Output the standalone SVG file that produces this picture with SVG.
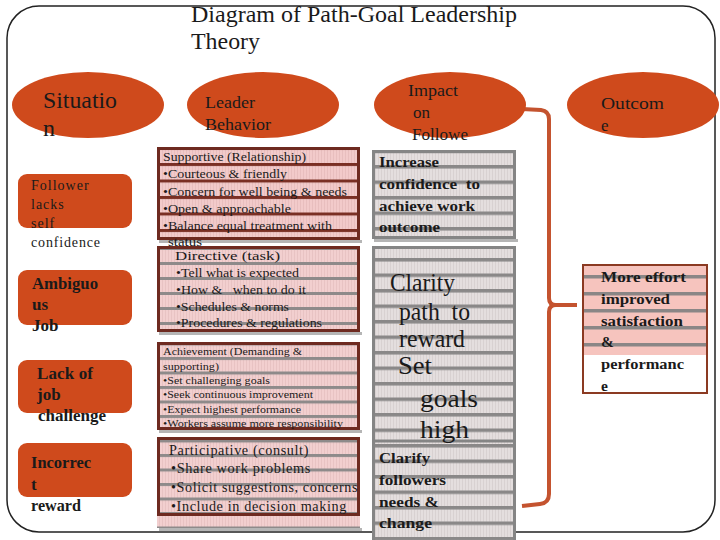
<svg xmlns="http://www.w3.org/2000/svg" width="720" height="540" viewBox="0 0 720 540">
<style>
  text { font-family: "Liberation Serif", "Times New Roman", serif; fill: #1a1a1a; }
  .ell { fill: #CF4A1C; }
  .obox { fill: #CF4A1C; }
  .hd { font-size: 24px; }
  .eh { font-size: 17px; }
  .lt { font-size: 14px; letter-spacing: 1px; }
  .lb { font-size: 17px; font-weight: bold; }
  .mb { fill: none; stroke: #6E2A20; stroke-width: 3; }
  .ib { fill: none; stroke: #858585; stroke-width: 3; }
  .m13 { font-size: 13px; }
  .m11 { font-size: 11px; }
  .m14 { font-size: 14px; letter-spacing: 0.6px; }
  .ibt { font-size: 15.5px; font-weight: bold; }
  .big { font-size: 26px; }
  .shadow { fill: #B5B5B5; }
</style>
<defs>
  <pattern id="pA" width="3" height="16.5" patternUnits="userSpaceOnUse" y="163">
    <rect width="3" height="16.5" fill="#F2CACA"/>
    <rect width="1" height="16.5" fill="#E8BEBE"/>
    <rect y="0" width="3" height="3" fill="#7A2F24"/>
  </pattern>
  <pattern id="pB" width="3" height="15" patternUnits="userSpaceOnUse" y="262">
    <rect width="3" height="15" fill="#F2CFCF"/>
    <rect width="1" height="15" fill="#E8C3C3"/>
    <rect y="0" width="3" height="3" fill="#8E8A8A"/>
  </pattern>
  <pattern id="pC" width="3" height="14.5" patternUnits="userSpaceOnUse" y="357">
    <rect width="3" height="14.5" fill="#F2CFCF"/>
    <rect width="1" height="14.5" fill="#E8C3C3"/>
    <rect y="0" width="3" height="3" fill="#8E8A8A"/>
  </pattern>
  <pattern id="pD" width="3" height="14.5" patternUnits="userSpaceOnUse" y="454">
    <rect width="3" height="14.5" fill="#F2CFCF"/>
    <rect width="1" height="14.5" fill="#E8C3C3"/>
    <rect y="0" width="3" height="3" fill="#8E8A8A"/>
  </pattern>
  <pattern id="pI" width="3" height="15.5" patternUnits="userSpaceOnUse" y="165">
    <rect width="3" height="15.5" fill="#E4DEDE"/>
    <rect width="1" height="15.5" fill="#D8D1D1"/>
    <rect y="0" width="3" height="3.5" fill="#8A8888"/>
  </pattern>
  <pattern id="pO" width="3" height="17" patternUnits="userSpaceOnUse" y="275">
    <rect width="3" height="17" fill="#F6C4BE"/>
    <rect y="0" width="3" height="3.5" fill="#8A8686"/>
  </pattern>
</defs>

<rect width="720" height="540" fill="#ffffff"/>
<rect x="7" y="6" width="708" height="526" rx="32" ry="32" fill="#ffffff" stroke="#222" stroke-width="1.5"/>

<g id="title">
  <text x="191" y="22" font-size="24" textLength="326" lengthAdjust="spacingAndGlyphs">Diagram of Path-Goal Leadership</text>
  <text x="191" y="49" font-size="24" textLength="69" lengthAdjust="spacingAndGlyphs">Theory</text>
</g>

<g id="connectors">
  <path d="M 522 109 L 541 110 Q 549 111 549 119 L 549 298 Q 549 305 556 305 L 577 305 M 556 305 Q 549 305 549 312 L 549 494 Q 549 503 540 504 L 522 506" fill="none" stroke="#C4532F" stroke-width="4" stroke-linejoin="round"/>
</g>

<g id="situation">
  <ellipse class="ell" cx="88" cy="105" rx="76" ry="33"/>
  <text class="hd" x="43" y="108" textLength="74" lengthAdjust="spacingAndGlyphs">Situatio</text>
  <text class="hd" x="43" y="136">n</text>
</g>
<g id="leader-behavior">
  <ellipse class="ell" cx="263" cy="105" rx="76" ry="33"/>
  <text class="eh" x="205" y="108" textLength="50" lengthAdjust="spacingAndGlyphs">Leader</text>
  <text class="eh" x="205" y="130" textLength="66" lengthAdjust="spacingAndGlyphs">Behavior</text>
</g>
<g id="impact">
  <ellipse class="ell" cx="450" cy="105" rx="76" ry="33"/>
  <text class="eh" x="408" y="96" textLength="50" lengthAdjust="spacingAndGlyphs">Impact</text>
  <text class="eh" x="413" y="118">on</text>
  <text class="eh" x="412" y="140" textLength="56" lengthAdjust="spacingAndGlyphs">Followe</text>
</g>
<g id="outcome">
  <ellipse class="ell" cx="643" cy="105" rx="76" ry="33"/>
  <text class="eh" x="601" y="109" font-size="18" textLength="63" lengthAdjust="spacingAndGlyphs">Outcom</text>
  <text class="eh" x="601" y="131" font-size="18">e</text>
</g>

<g id="sit-confidence">
  <rect class="obox" x="18" y="174" width="114" height="54" rx="9"/>
  <text class="lt" x="31" y="190">Follower</text>
  <text class="lt" x="31" y="209">lacks</text>
  <text class="lt" x="31" y="228">self</text>
  <text class="lt" x="31" y="247" textLength="70">confidence</text>
</g>
<g id="sit-ambiguous">
  <rect class="obox" x="18" y="270" width="114" height="55" rx="9"/>
  <text class="lb" x="32" y="289" textLength="66" lengthAdjust="spacingAndGlyphs">Ambiguo</text>
  <text class="lb" x="32" y="310">us</text>
  <text class="lb" x="32" y="331">Job</text>
</g>
<g id="sit-challenge">
  <rect class="obox" x="18" y="360" width="114" height="53" rx="9"/>
  <text class="lb" x="37" y="379" textLength="56">Lack of</text>
  <text class="lb" x="37" y="400">job</text>
  <text class="lb" x="38" y="421" textLength="68" lengthAdjust="spacingAndGlyphs">challenge</text>
</g>
<g id="sit-reward">
  <rect class="obox" x="18" y="443" width="114" height="54" rx="9"/>
  <text class="lb" x="31" y="468" textLength="60" lengthAdjust="spacingAndGlyphs">Incorrec</text>
  <text class="lb" x="31" y="490">t</text>
  <text class="lb" x="31" y="511" textLength="50" lengthAdjust="spacingAndGlyphs">reward</text>
</g>

<g id="supportive">
  <rect class="shadow" x="159" y="240" width="203" height="3"/>
  <rect x="157" y="147" width="203" height="93" fill="url(#pA)"/>
  <rect class="mb" x="158.5" y="148.5" width="200" height="90"/>
  <text class="m13" x="163" y="161" textLength="143" lengthAdjust="spacingAndGlyphs">Supportive (Relationship)</text>
  <text class="m13" x="163" y="178" textLength="124" lengthAdjust="spacingAndGlyphs">•Courteous &amp; friendly</text>
  <text class="m13" x="163" y="196" textLength="184" lengthAdjust="spacingAndGlyphs">•Concern for well being &amp; needs</text>
  <text class="m13" x="163" y="213" textLength="128" lengthAdjust="spacingAndGlyphs">•Open &amp; approachable</text>
  <text class="m13" x="163" y="230" textLength="169" lengthAdjust="spacingAndGlyphs">•Balance equal treatment with</text>
  <text class="m13" x="168" y="246" textLength="34" lengthAdjust="spacingAndGlyphs">status</text>
</g>
<g id="directive">
  <rect class="shadow" x="159" y="332" width="203" height="3"/>
  <rect x="157" y="246" width="203" height="86" fill="url(#pB)"/>
  <rect class="mb" x="158.5" y="247.5" width="200" height="83"/>
  <text class="m13" x="175" y="260" textLength="105" lengthAdjust="spacingAndGlyphs">Directive (task)</text>
  <text class="m13" x="176" y="277" textLength="123" lengthAdjust="spacingAndGlyphs">•Tell what is expected</text>
  <text class="m13" x="176" y="294" textLength="130" lengthAdjust="spacingAndGlyphs" xml:space="preserve">•How &amp;   when to do it</text>
  <text class="m13" x="176" y="311" textLength="113" lengthAdjust="spacingAndGlyphs">•Schedules &amp; norms</text>
  <text class="m13" x="176" y="327" textLength="146" lengthAdjust="spacingAndGlyphs">•Procedures &amp; regulations</text>
</g>
<g id="achievement">
  <rect class="shadow" x="159" y="430" width="203" height="3"/>
  <rect x="157" y="342" width="203" height="88" fill="url(#pC)"/>
  <rect class="mb" x="158.5" y="343.5" width="200" height="85"/>
  <text class="m11" x="163" y="355" textLength="139" lengthAdjust="spacingAndGlyphs">Achievement (Demanding &amp;</text>
  <text class="m11" x="163" y="370" textLength="56" lengthAdjust="spacingAndGlyphs">supporting)</text>
  <text class="m11" x="163" y="384" textLength="107" lengthAdjust="spacingAndGlyphs">•Set challenging goals</text>
  <text class="m11" x="163" y="398" textLength="150" lengthAdjust="spacingAndGlyphs">•Seek continuous improvement</text>
  <text class="m11" x="163" y="413" textLength="138" lengthAdjust="spacingAndGlyphs">•Expect highest performance</text>
  <text class="m11" x="163" y="427" textLength="180" lengthAdjust="spacingAndGlyphs">•Workers assume more responsibility</text>
</g>
<g id="participative">
  <rect class="shadow" x="159" y="528" width="203" height="3"/>
  <rect x="157" y="437" width="203" height="91" fill="url(#pD)"/>
  <rect class="mb" x="158.5" y="438.5" width="200" height="76"/>
  <text class="m14" x="169" y="455" textLength="140" lengthAdjust="spacingAndGlyphs">Participative (consult)</text>
  <text class="m14" x="171" y="473" textLength="140" lengthAdjust="spacingAndGlyphs">•Share work problems</text>
  <text class="m14" x="171" y="492" textLength="187" lengthAdjust="spacingAndGlyphs">•Solicit suggestions, concerns</text>
  <text class="m14" x="171" y="511" textLength="176" lengthAdjust="spacingAndGlyphs">•Include in decision making</text>
</g>

<g id="impact-confidence">
  <rect class="shadow" x="374" y="239" width="144" height="3"/>
  <rect x="372" y="150" width="144" height="89" fill="url(#pI)"/>
  <rect class="ib" x="373.5" y="151.5" width="141" height="86"/>
  <text class="ibt" x="379" y="167" textLength="60" lengthAdjust="spacingAndGlyphs">Increase</text>
  <text class="ibt" x="379" y="189" textLength="101" lengthAdjust="spacingAndGlyphs" xml:space="preserve">confidence  to</text>
  <text class="ibt" x="379" y="211" textLength="96" lengthAdjust="spacingAndGlyphs">achieve work</text>
  <text class="ibt" x="379" y="232" textLength="61" lengthAdjust="spacingAndGlyphs">outcome</text>
</g>
<g id="impact-clarify">
  <rect x="372" y="246" width="144" height="300" fill="url(#pI)"/>
  <rect class="ib" x="373.5" y="247.5" width="141" height="300"/>
  <line x1="372" y1="441" x2="516" y2="441" stroke="#858585" stroke-width="3"/>
  <text class="big" x="390" y="291" textLength="65" lengthAdjust="spacingAndGlyphs">Clarity</text>
  <text class="big" x="399" y="320" textLength="71" lengthAdjust="spacingAndGlyphs" xml:space="preserve">path  to</text>
  <text class="big" x="399" y="347" textLength="66" lengthAdjust="spacingAndGlyphs">reward</text>
  <text class="big" x="398" y="374" font-size="28" textLength="34" lengthAdjust="spacingAndGlyphs">Set</text>
  <text class="big" x="420" y="407" font-size="30" textLength="58" lengthAdjust="spacingAndGlyphs">goals</text>
  <text class="big" x="420" y="438" font-size="30" textLength="49" lengthAdjust="spacingAndGlyphs">high</text>
  <text class="ibt" x="379" y="463" textLength="51" lengthAdjust="spacingAndGlyphs">Clarify</text>
  <text class="ibt" x="379" y="485" textLength="67" lengthAdjust="spacingAndGlyphs">followers</text>
  <text class="ibt" x="379" y="507" textLength="60" lengthAdjust="spacingAndGlyphs">needs &amp;</text>
  <text class="ibt" x="379" y="528" textLength="53" lengthAdjust="spacingAndGlyphs">change</text>
</g>

<g id="outcome-box">
  <rect x="582" y="264" width="126" height="130" fill="#ffffff"/>
  <rect x="582" y="264" width="126" height="91" fill="url(#pO)"/>
  <rect x="583" y="265" width="124" height="128" fill="none" stroke="#8B3A22" stroke-width="2"/>
  <text class="ibt" x="601" y="282" textLength="85" lengthAdjust="spacingAndGlyphs">More effort</text>
  <text class="ibt" x="601" y="304" textLength="69" lengthAdjust="spacingAndGlyphs">improved</text>
  <text class="ibt" x="601" y="326" textLength="82" lengthAdjust="spacingAndGlyphs">satisfaction</text>
  <text class="ibt" x="601" y="347">&amp;</text>
  <text class="ibt" x="601" y="369" textLength="83" lengthAdjust="spacingAndGlyphs">performanc</text>
  <text class="ibt" x="601" y="391">e</text>
</g>
</svg>
